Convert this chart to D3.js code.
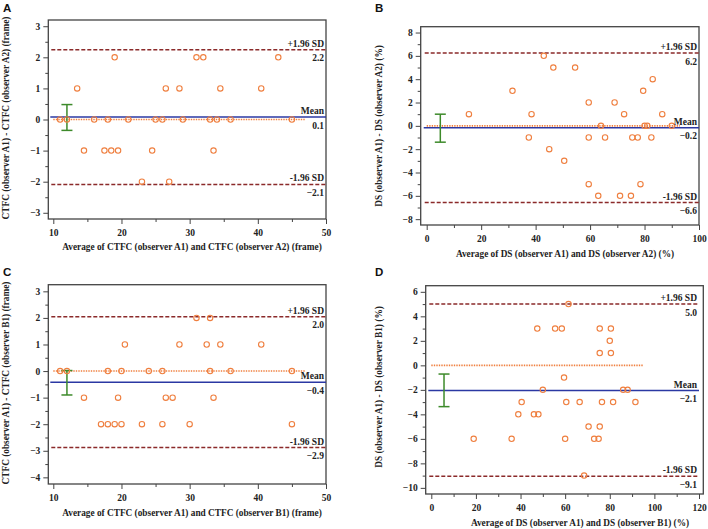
<!DOCTYPE html>
<html><head><meta charset="utf-8">
<script src="https://cdn.jsdelivr.net/npm/d3@7"></script>
<style>body{margin:0;background:#fff} svg{display:block}</style>
</head><body><svg id="c" width="708" height="529"></svg>
<script>
// ---- Data ----
// Panel A: CTFC A1 vs A2
const aX = [19,31,32,43, 13.5,26.5,28.5,34.5,40.5, 11,12,16,18,21,25,26,29,33,34,36,45, 14.5,17.5,18.5,19.5,24.5,33.5, 23,27];
const aY = [2,2,2,2, 1,1,1,1,1, 0,0,0,0,0,0,0,0,0,0,0,0, -1,-1,-1,-1,-1,-1, -2,-2];
// Panel B: DS A1 vs A2
const bX = [43, 46.5,54.5, 83, 31.5,79.5, 59.5,69, 15.5,38.5,72.5,86.5, 64,80,81,90, 37.5,59.5,65.5,75.5,77.5,82.5, 45, 50.5, 59.5,78.5, 63,71,75];
const bY = [6, 5,5, 4, 3,3, 2,2, 1,1,1,1, 0,0,0,0, -1,-1,-1,-1,-1,-1, -2, -3, -5,-5, -6,-6,-6];
// Panel C: CTFC A1 vs B1
const cX = [31,33, 20.5,28.5,32.5,34.5,40.5, 11,12,18,20,24,26,33,36,45, 14.5,19.5,26.5,27.5,33.5, 17,18,19,20,23,26,30,45];
const cY = [2,2, 1,1,1,1,1, 0,0,0,0,0,0,0,0,0, -1,-1,-1,-1,-1, -2,-2,-2,-2,-2,-2,-2,-2];
// Panel D: DS A1 vs B1
const dX = [61.5, 47.5,55.5,58.5,75.5,80.5, 80, 75.5,80.5, 59.5, 50,86,88, 40.5,60.5,66.5,76.5,81.5,91.5, 39,46,48, 70.5,75.5, 19,36,60,73,75, 68.5];
const dY = [5, 3,3,3,3,3, 2, 1,1, -1, -2,-2,-2, -3,-3,-3,-3,-3,-3, -4,-4,-4, -5,-5, -6,-6,-6,-6,-6, -9];

// Agreement statistics [upper LoA, mean, lower LoA] per panel
const upperLoA = [2.24, 6.24, 2.04, 5.0];
const meanDiff = [0.08, -0.17, -0.42, -2.06];
const lowerLoA = [-2.09, -6.58, -2.88, -9.06];
// 95% CI of mean (error bar): x position, low, high
const ciX = [12, 5, 12, 5.7];
const ciLo = [-0.35, -1.4, -0.9, -3.37];
const ciHi = [0.48, 1.0, 0.02, -0.71];
// Line of equality (zero) extent
const zeroEnd = [47, 93, 47, 95];

const panelLetters = ["A", "B", "C", "D"];
const xTitles = [
  "Average of CTFC (observer A1) and CTFC (observer A2) (frame)",
  "Average of DS (observer A1) and DS (observer A2) (%)",
  "Average of CTFC (observer A1) and CTFC (observer B1) (frame)",
  "Average of DS (observer A1) and DS (observer B1) (%)"
];
const yTitles = [
  "CTFC (observer A1) - CTFC (observer A2) (frame)",
  "DS (observer A1) - DS (observer A2) (%)",
  "CTFC (observer A1) - CTFC (observer B1) (frame)",
  "DS (observer A1) - DS (observer B1) (%)"
];
const xTickVals = [[10,20,30,40,50],[0,20,40,60,80,100],[10,20,30,40,50],[0,20,40,60,80,100,120]];
const xMinorVals = [[15,25,35,45],[10,30,50,70,90],[15,25,35,45],[10,30,50,70,90,110]];
const yTickVals = [[-3,-2,-1,0,1,2,3],[-8,-6,-4,-2,0,2,4,6,8],[-4,-3,-2,-1,0,1,2,3],[-10,-8,-6,-4,-2,0,2,4,6]];
const yMinorVals = [[-2.5,-1.5,-0.5,0.5,1.5,2.5],[-7,-5,-3,-1,1,3,5,7],[-3.5,-2.5,-1.5,-0.5,0.5,1.5,2.5],[-9,-7,-5,-3,-1,1,3,5]];

// ---- Layout ----
const layout = [
  {box:[48.3,20,326,219], xd:[10,50], xr:[53.3,326], yd:[-3.2,3.2], letter:[3,12], xt:[192,250], yt:[6,118]},
  {box:[420.7,26.7,699,225], xd:[0,100], xr:[426.7,699], yd:[-8.5,8.5], letter:[375,12], xt:[565,257], yt:[379,126]},
  {box:[48.3,284.7,326,484], xd:[10,50], xr:[53.3,326], yd:[-4.25,3.25], letter:[3,276], xt:[192,516], yt:[6,383]},
  {box:[425.7,285.7,703.3,494], xd:[0,120], xr:[431.3,699], yd:[-10.5,6.5], letter:[375,276], xt:[580,526], yt:[379,387]}
];
const series = [[aX,aY],[bX,bY],[cX,cY],[dX,dY]];

const svg = d3.select("#c");
const serif = "'Liberation Serif','Times New Roman',serif";
const C = {pt:"#ef7f3f", zero:"#f08040", sd:"#8b2a2a", mean:"#2b38a3", ci:"#3d8a2a", ink:"#222", frame:"#444"};

layout.forEach((L, i) => {
  const [bl, bt, br, bb] = L.box;
  const x = d3.scaleLinear().domain(L.xd).range(L.xr);
  const y = d3.scaleLinear().domain(L.yd).range([bb, bt]);
  const g = svg.append("g");

  // frame
  g.append("rect").attr("x", bl).attr("y", bt).attr("width", br - bl).attr("height", bb - bt)
    .attr("fill", "none").attr("stroke", C.frame).attr("stroke-width", 1.3);

  // y axis
  const ya = g.append("g").attr("transform", `translate(${bl},0)`)
    .call(d3.axisLeft(y).tickValues(yTickVals[i]).tickSize(5).tickPadding(3).tickFormat(d3.format("d")));
  ya.select(".domain").remove();
  g.append("g").attr("transform", `translate(${bl},0)`)
    .call(d3.axisLeft(y).tickValues(yMinorVals[i]).tickSize(3).tickFormat(""))
    .select(".domain").remove();
  // x axis
  const xa = g.append("g").attr("transform", `translate(0,${bb})`)
    .call(d3.axisBottom(x).tickValues(xTickVals[i]).tickSize(5).tickPadding(5).tickFormat(d3.format("d")));
  xa.select(".domain").remove();
  g.append("g").attr("transform", `translate(0,${bb})`)
    .call(d3.axisBottom(x).tickValues(xMinorVals[i]).tickSize(3).tickFormat(""))
    .select(".domain").remove();
  g.selectAll(".tick line").attr("stroke", C.frame).attr("stroke-width", 1);
  g.selectAll(".tick text").attr("font-family", serif).attr("font-weight", "bold")
    .attr("font-size", 9.5).attr("fill", C.ink);

  const xs = L.xr[0], xe = L.xr[1];
  // zero line (dotted)
  g.append("line").attr("x1", xs).attr("x2", x(zeroEnd[i])).attr("y1", y(0)).attr("y2", y(0))
    .attr("stroke", C.zero).attr("stroke-width", 1.6).attr("stroke-dasharray", "1.4,1.1");
  // mean line
  g.append("line").attr("x1", xs - 3).attr("x2", xe).attr("y1", y(meanDiff[i])).attr("y2", y(meanDiff[i]))
    .attr("stroke", C.mean).attr("stroke-width", 1.5);
  // LoA lines
  [upperLoA[i], lowerLoA[i]].forEach(v => {
    g.append("line").attr("x1", xs - 2).attr("x2", xe).attr("y1", y(v)).attr("y2", y(v))
      .attr("stroke", C.sd).attr("stroke-width", 1.5).attr("stroke-dasharray", "4,2");
  });

  // CI error bar
  const cx = x(ciX[i]);
  g.append("line").attr("x1", cx).attr("x2", cx).attr("y1", y(ciLo[i])).attr("y2", y(ciHi[i]))
    .attr("stroke", C.ci).attr("stroke-width", 1.5);
  [ciLo[i], ciHi[i]].forEach(v => {
    g.append("line").attr("x1", cx - 5.5).attr("x2", cx + 5.5).attr("y1", y(v)).attr("y2", y(v))
      .attr("stroke", C.ci).attr("stroke-width", 1.5);
  });

  // points
  const [px, py] = series[i];
  g.selectAll("circle.pt").data(px.map((v, k) => [v, py[k]])).join("circle")
    .attr("class", "pt").attr("cx", d => x(d[0])).attr("cy", d => y(d[1])).attr("r", 2.7)
    .attr("fill", "none").attr("stroke", C.pt).attr("stroke-width", 1.1);

  // line labels
  const fmt = d3.format(".1f");
  const lab = [["+1.96 SD", upperLoA[i]], ["Mean", meanDiff[i]], ["-1.96 SD", lowerLoA[i]]];
  lab.forEach(([t, v]) => {
    g.append("text").attr("x", xe - 2).attr("y", y(v) - 3).attr("text-anchor", "end")
      .attr("font-family", serif).attr("font-weight", "bold").attr("font-size", 9.5).attr("fill", C.ink).text(t);
    g.append("text").attr("x", xe - 2).attr("y", y(v) + 11.5).attr("text-anchor", "end")
      .attr("font-family", serif).attr("font-weight", "bold").attr("font-size", 9.5).attr("fill", C.ink)
      .text(fmt(v));
  });

  // titles
  g.append("text").attr("x", L.xt[0]).attr("y", L.xt[1]).attr("text-anchor", "middle")
    .attr("font-family", serif).attr("font-weight", "bold").attr("font-size", 9.3).attr("fill", C.ink).text(xTitles[i]);
  g.append("text").attr("transform", `translate(${L.yt[0]},${L.yt[1]}) rotate(-90)`)
    .attr("text-anchor", "middle").attr("dominant-baseline", "central")
    .attr("font-family", serif).attr("font-weight", "bold").attr("font-size", 9.3).attr("fill", C.ink).text(yTitles[i]);
  // panel letter
  g.append("text").attr("x", L.letter[0]).attr("y", L.letter[1])
    .attr("font-family", "'Liberation Sans',Arial,sans-serif").attr("font-weight", "bold").attr("font-size", 11.5)
    .attr("fill", "#111").text(panelLetters[i]);
});
</script></body></html>
